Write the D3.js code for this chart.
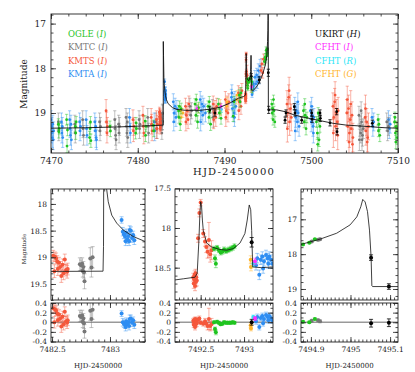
<!DOCTYPE html>
<html>
<head>
<meta charset="utf-8">
<script src="https://cdn.jsdelivr.net/npm/d3@7"></script>
<style>
body { margin: 0; background: #fff; }
svg text { font-family: "DejaVu Serif", serif; fill: #222; }
</style>
</head>
<body>
<div id="chart"></div>
<script>
// model curves: [HJD-2450000, mag]
var modelTop = [[7470,19.34],[7472,19.335],[7474,19.33],[7476,19.32],[7478,19.31],[7480,19.295],[7482,19.28],[7482.94,19.27],
  [7482.946,17.4],[7482.971,17.72],[7483.015,18.21],[7483.058,18.36],[7483.115,18.49],[7483.2,18.61],[7483.3,18.7],[7483.5,18.79],
  [7484,18.88],[7484.5,18.92],[7485.5,18.94],[7487.2,18.94],[7488.5,18.91],[7489.5,18.87],[7490.6,18.78],[7491.6,18.67],
  [7492.2,18.63],[7492.43,18.6],[7492.5,17.67],[7492.53,18.03],[7492.57,18.19],[7492.63,18.24],[7492.8,18.28],[7492.95,18.19],
  [7493.01,18.07],[7493.06,17.71],[7493.088,18.03],[7493.1,18.49],[7493.33,18.49],[7493.6,18.44],[7494,18.32],[7494.4,18.13],
  [7494.7,17.93],[7494.88,17.71],[7494.965,17.4],[7495.0,17.16],[7495.016,16.93],[7495.031,16.43],[7495.043,16.78],[7495.052,18.07],
  [7495.056,18.93],[7496,18.93],[7497,18.97],[7498,19.04],[7499,19.09],[7500,19.13],[7501,19.17],[7502.5,19.23],[7504,19.27],
  [7505.6,19.29],[7507,19.31],[7508.5,19.33],[7510,19.34]];
var modelA = [[7482.48,19.265],[7482.94,19.26],[7482.944,18.8],[7482.946,17.4],[7482.971,17.72],[7482.985,17.96],[7483.015,18.21],
  [7483.058,18.36],[7483.115,18.49],[7483.2,18.61],[7483.31,18.71]];
var modelB = [[7492.2,18.655],[7492.3,18.64],[7492.434,18.62],[7492.46,18.57],[7492.48,18.15],[7492.49,17.85],[7492.5,17.67],
  [7492.51,17.72],[7492.52,17.9],[7492.53,18.03],[7492.57,18.19],[7492.627,18.24],[7492.72,18.27],[7492.8,18.28],[7492.876,18.26],
  [7492.953,18.19],[7493.01,18.07],[7493.037,17.9],[7493.06,17.71],[7493.077,17.77],[7493.088,18.03],[7493.1,18.49],[7493.2,18.5],[7493.34,18.49]];
var modelC = [[7494.875,17.72],[7494.923,17.57],[7494.965,17.4],[7494.999,17.16],[7495.016,16.93],[7495.026,16.64],[7495.031,16.43],
  [7495.037,16.5],[7495.043,16.78],[7495.048,17.31],[7495.052,18.07],[7495.054,18.91],[7495.056,18.93],[7495.12,18.93]];

// photometry, top panel: [HJD-2450000, mag, err]
var ogle = [[7470.85,19.25,.12],[7470.9,19.42,.14],[7470.95,19.35,.12],[7471.8,19.15,.12],[7471.85,19.74,.15],[7471.9,19.38,.13],
  [7472.8,19.3,.12],[7472.85,19.45,.14],[7472.9,19.2,.12],[7474.45,19.55,.14],[7474.5,19.35,.12],[7474.55,19.2,.12],[7474.6,19.62,.15],
  [7476.8,19.3,.12],[7476.85,19.4,.13],[7479.75,19.45,.13],[7479.8,19.22,.12],[7479.85,19.35,.12],[7480.85,19.18,.12],[7480.9,19.5,.14],
  [7480.95,19.3,.12],[7481.8,19.28,.12],[7481.85,19.4,.13],
  [7484.7,18.95,.12],[7484.75,19.1,.13],[7484.8,18.85,.12],[7484.9,19.25,.14],[7485,18.9,.12],[7486.6,18.8,.12],[7486.7,19.05,.13],
  [7486.75,18.7,.12],[7486.8,18.95,.12],[7486.9,19.2,.14],[7487.0,18.88,.12],[7488.1,18.85,.12],[7488.2,19.1,.13],[7488.25,18.75,.12],
  [7488.3,18.95,.12],[7488.4,19.25,.14],[7489.3,18.8,.12],[7489.4,19.0,.12],[7489.5,18.9,.12],[7489.6,19.12,.13],[7491.0,19.07,.12],
  [7491.1,18.75,.12],[7491.7,18.6,.12],[7491.8,18.75,.12],[7491.9,18.55,.12],[7493.15,18.3,.1],[7493.2,18.45,.1],[7494.6,17.85,.08],
  [7494.7,17.75,.08],[7494.75,17.8,.08],[7494.8,17.6,.08],[7495.45,18.8,.1],[7495.5,19.0,.12],[7495.55,18.9,.1],[7495.6,19.15,.12],
  [7495.65,18.7,.1],[7495.7,18.95,.1],[7495.8,19.2,.12],[7499.1,18.95,.12],[7499.2,19.2,.13],[7499.25,18.8,.12],[7499.3,19.05,.12],
  [7499.4,19.35,.14],[7499.5,19.1,.12],[7500.6,19.2,.12],[7500.7,19.45,.14],[7500.75,19.7,.15],[7500.8,19.0,.12],[7500.85,19.15,.12],
  [7500.9,19.6,.15],[7501.0,19.3,.13],[7507.7,19.15,.12],[7507.75,19.4,.13],[7507.8,19.25,.12],[7507.9,19.5,.14],
  [7509.6,19.2,.12],[7509.65,19.1,.12],[7509.7,19.45,.14],[7509.75,19.65,.15],[7509.8,19.3,.12],[7509.9,19.55,.15],[7509.95,19.35,.13]];
var kmtc = [[7470.85,19.2,.2],[7470.9,19.4,.22],[7472.75,19.25,.2],[7472.8,19.45,.22],[7473.65,19.15,.2],[7473.7,19.35,.2],
  [7473.75,19.5,.22],[7475.6,19.2,.2],[7475.65,19.4,.22],[7475.7,19.3,.2],[7477.35,19.15,.2],[7477.4,19.35,.22],[7477.45,19.5,.22],
  [7477.5,19.6,.22],[7477.8,19.25,.2],[7477.85,19.45,.22],[7477.9,19.3,.2],[7478.65,19.1,.2],[7478.7,19.3,.22],[7478.75,19.45,.22],
  [7478.8,19.2,.2],[7478.85,19.55,.22],[7480.15,19.15,.2],[7480.2,19.35,.22],[7480.25,19.25,.2],[7481.15,19.1,.2],[7481.2,19.3,.2],
  [7481.25,19.45,.22],[7482.1,19.2,.2],[7482.2,19.35,.22],[7486.0,18.85,.18],[7486.1,19.05,.2],[7486.2,18.95,.18],[7488.6,18.9,.2],
  [7488.7,19.1,.22],[7505.5,19.05,.2],[7505.55,19.6,.24],[7505.6,19.3,.22],[7505.7,19.45,.22],[7505.75,18.95,.2],[7505.8,19.2,.2],
  [7505.85,19.6,.24],[7505.9,19.5,.24],[7506.0,19.35,.22],[7508.7,19.2,.2],[7508.8,19.4,.22],[7508.9,19.3,.2]];
var kmts = [[7476.35,18.95,.25],[7476.4,19.2,.22],[7476.45,19.45,.22],[7476.5,19.3,.2],[7479.45,19.15,.22],[7479.5,19.4,.24],
  [7479.55,19.3,.2],[7480.6,19.05,.2],[7480.65,19.3,.22],[7480.7,19.45,.24],[7481.55,19.1,.2],[7481.6,19.25,.22],[7481.65,19.4,.22],
  [7482.15,19.15,.2],[7482.2,19.35,.22],[7482.25,19.25,.2],
  [7485.5,18.85,.18],[7485.55,19.2,.2],[7485.6,19.05,.2],[7485.7,18.95,.18],[7485.8,19.15,.2],[7485.9,18.8,.18],[7488.7,18.8,.18],
  [7488.75,19.15,.2],[7488.8,19.0,.2],[7488.9,18.9,.18],[7489.0,19.1,.2],[7489.1,18.85,.18],[7490.1,18.7,.18],[7490.15,19.1,.2],
  [7490.2,18.95,.2],[7490.3,18.8,.18],[7490.4,19.0,.2],[7490.5,18.75,.18],[7491.6,18.55,.16],[7491.65,18.95,.2],[7491.7,18.75,.18],
  [7491.8,18.6,.16],[7491.9,18.85,.18],[7492.0,18.5,.16],[7494.2,18.05,.12],[7494.3,17.9,.12],[7494.4,18.1,.12],[7494.5,17.8,.12],
  [7497.2,18.8,.3],[7497.25,19.35,.3],[7497.3,19.0,.3],[7497.4,18.65,.28],[7497.45,18.5,.3],[7497.5,19.2,.3],[7497.6,18.9,.3],
  [7497.7,19.1,.3],[7502.5,18.85,.3],[7502.55,19.45,.32],[7502.6,19.1,.3],[7502.7,18.75,.3],[7502.75,18.6,.3],[7502.8,19.3,.32],
  [7502.9,19.0,.3],[7503.0,19.2,.3],[7503.05,19.5,.32],[7503.1,18.95,.3],[7504.1,19.0,.3],[7504.15,18.7,.3],[7504.2,19.3,.32],
  [7504.3,18.9,.3],[7504.35,19.65,.33],[7504.4,19.45,.32],[7504.5,19.15,.3],[7504.55,18.8,.3],[7504.6,19.35,.3],[7504.7,19.05,.3],
  [7504.75,19.7,.33],[7504.8,19.55,.32],[7506.2,19.1,.3],[7506.25,18.9,.3],[7506.3,19.4,.32],[7506.4,19.2,.3],[7506.45,19.65,.33],
  [7506.5,19.55,.32],[7506.6,19.3,.3]];
var kmta = [[7470.0,19.15,.2],[7470.05,19.45,.22],[7470.1,19.3,.2],[7470.15,19.55,.22],[7470.2,19.25,.2],[7470.25,19.6,.22],
  [7470.3,19.4,.2],[7471.2,19.2,.2],[7471.25,19.45,.22],[7471.3,19.3,.2],[7471.35,19.55,.22],[7472.15,19.15,.2],[7472.2,19.35,.2],
  [7472.25,19.5,.22],[7472.3,19.25,.2],[7472.35,19.6,.22],[7473.3,19.2,.2],[7473.35,19.4,.22],[7473.4,19.3,.2],[7474.05,19.15,.2],
  [7474.1,19.35,.2],[7474.15,19.5,.22],[7475.05,19.2,.2],[7475.1,19.4,.22],[7475.15,19.3,.2],[7475.2,19.55,.22],[7475.25,19.6,.22],
  [7479.05,19.1,.2],[7479.1,19.3,.2],[7479.15,19.45,.22],[7481.9,19.2,.2],[7481.95,19.4,.22],
  [7484.1,18.75,.18],[7484.15,19.2,.2],[7484.2,19.0,.2],[7484.3,18.85,.18],[7484.4,19.1,.2],[7484.5,18.9,.18],[7487.2,18.7,.18],
  [7487.25,19.2,.2],[7487.3,18.95,.2],[7487.4,18.8,.18],[7487.5,19.05,.2],[7487.6,18.85,.18],[7487.8,19.0,.2],[7490.8,18.65,.18],
  [7490.85,18.55,.18],[7490.9,18.9,.2],[7491.0,18.75,.18],[7491.1,19.0,.2],[7491.15,19.1,.2],[7491.2,18.7,.18],[7491.3,18.85,.18],
  [7493.5,18.2,.15],[7493.6,18.35,.15],[7493.7,18.15,.15],[7493.8,18.3,.15],[7493.9,18.05,.15],[7494.0,18.2,.15],[7494.1,17.95,.15],
  [7498.1,18.85,.2],[7498.15,19.4,.22],[7498.2,19.1,.22],[7498.3,18.95,.2],[7498.4,19.2,.22],[7498.45,18.75,.2],[7498.5,19.0,.2],
  [7498.6,19.3,.22],[7499.9,18.95,.2],[7500.0,19.2,.22],[7500.05,18.85,.2],[7500.1,19.05,.2],[7500.2,19.3,.22],[7500.25,19.45,.22],
  [7500.3,19.1,.2],[7507.0,19.1,.2],[7507.1,19.3,.22],[7507.2,19.2,.2],[7508.9,19.15,.2],[7509.0,19.35,.22],[7509.1,19.25,.2]];
var ukirt = [[7488.3,18.93,.07],[7488.9,19.0,.07],[7494.0,18.26,.07],[7496.98,19.16,.07],[7497.09,19.0,.07],[7498.05,18.86,.07],
  [7498.13,19.0,.07],[7498.9,19.16,.07],[7500.05,19.0,.07],[7500.1,19.14,.07],[7501.01,19.0,.07],[7501.05,19.12,.07],
  [7502.16,19.22,.07],[7502.93,18.97,.07],[7502.97,19.42,.07],[7507.04,19.23,.07]];
var cfhtG = [[7484.95,18.95,.1],[7485.0,19.1,.1],[7485.2,19.0,.1],[7487.0,18.9,.1],[7489.5,18.8,.1],[7489.55,18.95,.1],
  [7490.25,18.85,.1],[7490.3,18.75,.1],[7491.4,18.7,.1],[7491.45,18.6,.1],[7509.8,19.3,.1]];
var cfhtI = [[7486.8,18.9,.06],[7489.6,18.85,.06]];
var cfhtR = [[7489.65,18.92,.06]];

// zoom panels: [HJD-2450000, mag, err, residual]
var aKmts = [[7482.51,18.97,.1,.29],[7482.52,19.26,.12,0],[7482.525,18.99,.09,.27],[7482.535,19.02,.1,.24],[7482.545,19.08,.11,.18],
  [7482.55,19.22,.12,.04],[7482.56,19.1,.1,.16],[7482.57,19.18,.1,.08],[7482.58,19.35,.12,-.09],[7482.59,19.14,.11,.12],
  [7482.6,19.3,.12,-.04],[7482.61,19.04,.1,.22],[7482.62,19.24,.11,.02],[7482.63,19.27,.12,-.01],[7482.635,19.22,.11,.04]];
var aKmtc = [[7482.74,19.13,.12,.13],[7482.75,19.15,.1,.11],[7482.76,19.12,.11,.14],[7482.765,19.25,.12,.01],[7482.77,19.18,.1,.08],
  [7482.78,19.45,.14,-.19],[7482.775,19.28,.11,-.02],[7482.83,19.02,.2,.24],[7482.84,19.19,.18,.07],[7482.85,19.0,.2,.26]];
var aKmta = [[7483.1,18.3,.06,.18],[7483.11,18.52,.08,0],[7483.12,18.57,.08,-.03],[7483.13,18.61,.08,-.05],[7483.14,18.54,.07,.02],
  [7483.15,18.66,.08,-.04],[7483.16,18.6,.07,0],[7483.17,18.49,.08,.07],[7483.18,18.5,.07,.08],[7483.19,18.64,.08,-.01],
  [7483.2,18.58,.07,.04],[7483.21,18.68,.08,-.05],[7483.165,18.7,.08,-.08],[7483.135,18.7,.08,-.1]];
var bKmts = [[7492.415,18.62,.05,.03],[7492.42,18.7,.06,-.05],[7492.425,18.65,.05,0],[7492.43,18.59,.05,.05],[7492.435,18.73,.06,-.1],
  [7492.44,18.57,.05,.06],[7492.445,18.68,.06,-.04],[7492.45,18.62,.05,.01],[7492.455,18.66,.07,-.02],[7492.47,18.13,.05,.05],
  [7492.485,17.81,.05,.08],[7492.5,17.68,.04,-.01],[7492.53,18.07,.05,-.03],[7492.55,18.17,.06,.02],[7492.565,18.24,.07,-.03],
  [7492.58,18.3,.08,-.08],[7492.595,18.15,.22,.07],[7492.61,18.33,.1,-.08],[7492.625,18.28,.12,-.04]];
var bOgle = [[7492.655,18.26,.03,0],[7492.665,18.38,.04,-.14],[7492.675,18.45,.05,-.21],[7492.69,18.25,.03,.01],[7492.71,18.28,.03,-.01],
  [7492.73,18.31,.03,-.04],[7492.75,18.3,.03,-.03],[7492.77,18.27,.03,0],[7492.79,18.29,.03,-.01],[7492.81,18.28,.03,-.01],
  [7492.83,18.27,.03,-.01],[7492.85,18.26,.03,-.01],[7492.87,18.25,.03,0],[7492.89,18.23,.03,-.01]];
var bKmta = [[7493.138,18.47,.06,.02],[7493.153,18.38,.06,.11],[7493.176,18.59,.06,-.1],[7493.192,18.4,.06,.09],[7493.211,18.36,.06,.13],
  [7493.22,18.51,.06,-.02],[7493.23,18.42,.06,.07],[7493.253,18.34,.06,.15],[7493.273,18.38,.06,.11],[7493.28,18.45,.06,.04],
  [7493.291,18.36,.06,.13],[7493.311,18.4,.06,.09],[7493.326,18.45,.06,.04]];
var bUkirt = [[7493.088,18.18,.06,0]];
var bCfhtG = [[7493.077,18.4,.05,-.06],[7493.08,18.49,.05,-.13]];
var bCfhtI = [[7493.126,18.42,.04,.08]];
var bCfhtR = [[7493.107,18.45,.04,.11]];
var cOgle = [[7494.88,17.72,.02,.01],[7494.896,17.67,.02,0],[7494.91,17.57,.02,.07]];
var cKmtc = [[7494.902,17.64,.03,.03],[7494.918,17.59,.03,.04],[7494.923,17.57,.03,.02]];
var cUkirt = [[7495.052,18.1,.08,-.02],[7495.097,18.93,.08,-.01]];

var col = {ogle:"#1fc41f", kmtc:"#777777", kmts:"#f5573b", kmta:"#2d8df2", ukirt:"#000000",
  cfhtI:"#ff2eff", cfhtR:"#2ee6f7", cfhtG:"#ffb52e"};

var svg = d3.select("#chart").append("svg").attr("width", 415).attr("height", 372);

function fmt(d) { return Math.abs(d) < 1e-9 ? "0" : (Math.abs(d % 1) < 1e-6 ? d3.format("d")(d) : d.toFixed(1)); }

// box with inward ticks on every side
function frame(x, y, xMaj, xMin, yMaj, yMin, xLab, fs, pad, xpad) {
  var g = svg.append("g");
  var x0 = x.range()[0], x1 = x.range()[1], yb = y.range()[0], yt = y.range()[1];
  var big = 5, small = 2.5;
  var sides = [[d3.axisBottom, "translate(0," + yb + ")", x, xMaj, xMin, xLab, xpad],
               [d3.axisTop, "translate(0," + yt + ")", x, xMaj, xMin, false, pad],
               [d3.axisLeft, "translate(" + x0 + ",0)", y, yMaj, yMin, true, pad],
               [d3.axisRight, "translate(" + x1 + ",0)", y, yMaj, yMin, false, pad]];
  sides.forEach(function(s) {
    g.append("g").attr("transform", s[1]).call(s[0](s[2]).tickValues(s[4]).tickSize(-small).tickFormat(""));
    g.append("g").attr("transform", s[1])
      .call(s[0](s[2]).tickValues(s[3]).tickSize(-big).tickPadding(s[6]).tickFormat(s[5] ? fmt : ""));
  });
  g.selectAll(".domain").remove();
  g.selectAll(".tick line").attr("stroke", "#222").attr("stroke-width", 0.8);
  g.selectAll("text").attr("font-family", "DejaVu Serif").attr("font-size", fs).attr("fill", "#222");
  g.append("rect").attr("x", x0).attr("y", yt).attr("width", x1 - x0).attr("height", yb - yt)
    .attr("fill", "none").attr("stroke", "#222").attr("stroke-width", 0.9);
  return g;
}

var clipN = 0;
function clipped(x, y) {
  var id = "clip" + (clipN++);
  svg.append("clipPath").attr("id", id).append("rect")
    .attr("x", x.range()[0]).attr("y", y.range()[1])
    .attr("width", x.range()[1] - x.range()[0]).attr("height", y.range()[0] - y.range()[1]);
  return svg.append("g").attr("clip-path", "url(#" + id + ")");
}

function drawSet(g, data, x, y, c, r, cap, vi) {
  var s = g.append("g");
  s.selectAll("path.eb").data(data).join("path").attr("class", "eb")
    .attr("d", function(d) {
      var px = x(d[0]), lo = y(d[vi] - d[2]), hi = y(d[vi] + d[2]);
      return "M" + px + "," + lo + "V" + hi + "M" + (px - cap) + "," + lo + "h" + 2 * cap + "M" + (px - cap) + "," + hi + "h" + 2 * cap;
    })
    .attr("fill", "none").attr("stroke", c).attr("stroke-opacity", c == "#000000" ? 0.85 : 0.5).attr("stroke-width", 0.9);
  s.selectAll("circle").data(data).join("circle")
    .attr("cx", function(d) { return x(d[0]); }).attr("cy", function(d) { return y(d[vi]); })
    .attr("r", r).attr("fill", c);
}

function drawModel(g, m, x, y, w) {
  g.append("path").datum(m)
    .attr("d", d3.line().x(function(d) { return x(d[0]); }).y(function(d) { return y(d[1]); }))
    .attr("fill", "none").attr("stroke", "#111").attr("stroke-width", w);
}

// ---------------- top panel ----------------
var xTop = d3.scaleLinear().domain([7470, 7510]).range([51, 398]);
var yTop = d3.scaleLinear().domain([19.895, 16.785]).range([153, 14]);
var gTop = clipped(xTop, yTop);
var topSets = [[kmta.concat(aKmta, bKmta), col.kmta], [kmtc.concat(aKmtc, cKmtc), col.kmtc], [kmts.concat(aKmts, bKmts), col.kmts],
           [cfhtG.concat(bCfhtG), col.cfhtG], [ogle.concat(bOgle, cOgle), col.ogle], [cfhtR.concat(bCfhtR), col.cfhtR],
           [cfhtI.concat(bCfhtI), col.cfhtI], [ukirt.concat(bUkirt, cUkirt), col.ukirt]];
topSets.forEach(function(t) { drawSet(gTop, t[0], xTop, yTop, t[1], 1.4, 1.6, 1); });
drawModel(gTop, modelTop, xTop, yTop, 0.9);
frame(xTop, yTop, [7470, 7480, 7490, 7500, 7510], d3.range(7470, 7511, 2), [17, 18, 19], d3.range(16.8, 19.9, 0.2), true, 9, 5, 5);

svg.append("text").attr("x", 234).attr("y", 175).attr("text-anchor", "middle").attr("font-size", 10)
  .attr("letter-spacing", 1.2).text("HJD-2450000");
svg.append("text").attr("transform", "translate(27,84) rotate(-90)").attr("text-anchor", "middle").attr("font-size", 9).text("Magnitude");

var legL = [["OGLE", "I", col.ogle], ["KMTC", "I", col.kmtc], ["KMTS", "I", col.kmts], ["KMTA", "I", col.kmta]];
var legR = [["UKIRT", "H", "#111"], ["CFHT", "I", col.cfhtI], ["CFHT", "R", col.cfhtR], ["CFHT", "G", col.cfhtG]];
var legY = [36.5, 50, 63.5, 77];
function legend(items, x0) {
  items.forEach(function(it, i) {
    var t = svg.append("text").attr("x", x0).attr("y", legY[i]).attr("font-size", 8.5).style("fill", it[2]);
    t.append("tspan").text(it[0] + " (");
    t.append("tspan").attr("font-style", "italic").text(it[1]);
    t.append("tspan").text(")");
  });
}
legend(legL, 68);
legend(legR, 315);

// ---------------- zoom panels ----------------
var yRes = d3.scaleLinear().domain([-0.41, 0.4]).range([342, 303]);
var resMaj = [-0.4, -0.2, 0, 0.2, 0.4], resMin = d3.range(-0.4, 0.41, 0.1);

function zoomPanel(x, y, xMaj, xMin, yMaj, yMin, model, sets) {
  var g = clipped(x, y);
  sets.forEach(function(s) { drawSet(g, s[0], x, y, s[1], 2, 2, 1); });
  drawModel(g, model, x, y, 0.8);
  frame(x, y, xMaj, xMin, yMaj, yMin, false, 7.5, 4, 4);
  var gr = clipped(x, yRes);
  gr.append("line").attr("x1", x.range()[0]).attr("x2", x.range()[1]).attr("y1", yRes(0)).attr("y2", yRes(0))
    .attr("stroke", "#999").attr("stroke-width", 1.4);
  sets.forEach(function(s) { drawSet(gr, s[0], x, yRes, s[1], 2, 2, 3); });
  frame(x, yRes, xMaj, xMin, resMaj, resMin, true, 7.5, 4, 5);
  svg.append("text").attr("x", (x.range()[0] + x.range()[1]) / 2).attr("y", 368).attr("text-anchor", "middle")
    .attr("font-size", 7).text("HJD-2450000");
}

var xA = d3.scaleLinear().domain([7482.491, 7483.302]).range([51, 145]);
var yA = d3.scaleLinear().domain([19.8, 17.72]).range([300, 189]);
zoomPanel(xA, yA, [7482.5, 7483], d3.range(7482.5, 7483.31, 0.05), [18, 18.5, 19, 19.5], d3.range(17.8, 19.81, 0.1), modelA,
  [[aKmts, col.kmts], [aKmtc, col.kmtc], [aKmta, col.kmta]]);

var xB = d3.scaleLinear().domain([7492.204, 7493.334]).range([175, 273]);
var yB = d3.scaleLinear().domain([18.907, 17.509]).range([300, 189]);
zoomPanel(xB, yB, [7492.5, 7493], d3.range(7492.25, 7493.33, 0.05), [17.5, 18, 18.5], d3.range(17.6, 18.91, 0.1), modelB,
  [[bKmts, col.kmts], [bOgle, col.ogle], [bKmta, col.kmta], [bCfhtG, col.cfhtG], [bCfhtR, col.cfhtR], [bCfhtI, col.cfhtI], [bUkirt, col.ukirt]]);

var xC = d3.scaleLinear().domain([7494.875, 7495.12]).range([301, 398]);
var yC = d3.scaleLinear().domain([19.316, 16.13]).range([300, 189]);
zoomPanel(xC, yC, [7494.9, 7495, 7495.1], d3.range(7494.88, 7495.12, 0.01), [17, 18, 19], d3.range(16.2, 19.31, 0.2), modelC,
  [[cKmtc, col.kmtc], [cOgle, col.ogle], [cUkirt, col.ukirt]]);

svg.append("text").attr("transform", "translate(26,249) rotate(-90)").attr("text-anchor", "middle").attr("font-size", 5.5).text("Magnitude");
</script>
</body>
</html>
